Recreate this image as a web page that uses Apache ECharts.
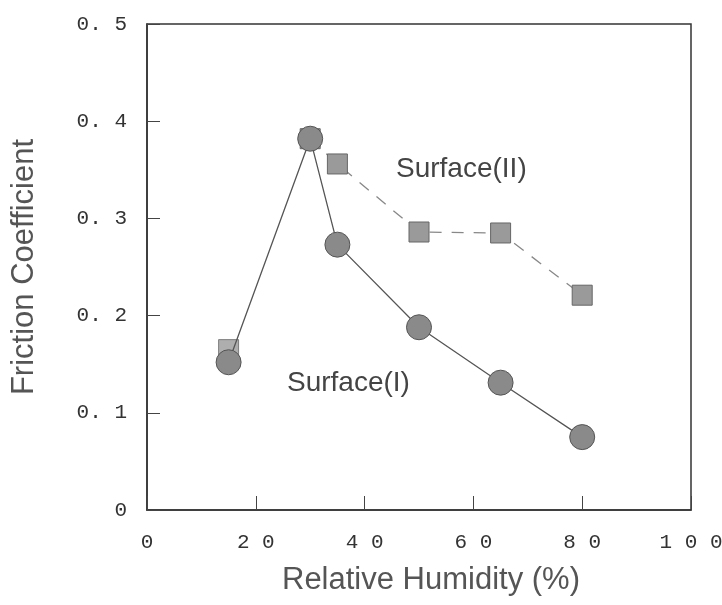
<!DOCTYPE html>
<html>
<head>
<meta charset="utf-8">
<script src="https://cdn.jsdelivr.net/npm/echarts@6/dist/echarts.min.js"></script>
<style>
  html, body { margin: 0; padding: 0; background: #fff; }
  #main { width: 722px; height: 605px; }
</style>
</head>
<body>
<div id="main"></div>
<script>
// values
var humidity = [15, 30, 35, 50, 65, 80];
var surface1 = [0.152, 0.382, 0.273, 0.188, 0.131, 0.075];
var surface2 = [0.165, 0.382, 0.356, 0.286, 0.285, 0.221];
var xTickLabels = { 0: '0', 20: '2 0', 40: '4 0', 60: '6 0', 80: '8 0', 100: '1 0 0' };
var yTickLabels = { 0: '0', 1: '0. 1', 2: '0. 2', 3: '0. 3', 4: '0. 4', 5: '0. 5' };

function pairs(xs, ys) {
  return xs.map(function (x, i) { return [x, ys[i]]; });
}

var chart = echarts.init(document.getElementById('main'));
var tickFont = { fontFamily: 'Liberation Mono', fontSize: 21, color: '#333' };
var s2points = pairs(humidity, surface2);

var option = {
  backgroundColor: '#fff',
  animation: false,
  grid: {
    left: 147, top: 24, right: 31, bottom: 95,
    outerBoundsMode: 'none',
    show: true, borderColor: '#333', borderWidth: 1.5
  },
  xAxis: {
    type: 'value', min: 0, max: 100, interval: 20,
    name: 'Relative Humidity (%)',
    nameLocation: 'middle', nameGap: 55,
    nameTextStyle: { fontFamily: 'Liberation Sans', fontSize: 31, color: '#555', padding: [0, 0, 0, 24] },
    axisLine: { lineStyle: { color: '#333', width: 1.5 } },
    axisTick: { inside: true, length: 14, lineStyle: { color: '#444' } },
    splitLine: { show: false },
    axisLabel: Object.assign({
      margin: 22,
      formatter: function (v) { return xTickLabels[v]; }
    }, tickFont)
  },
  yAxis: {
    type: 'value', min: 0, max: 0.5, interval: 0.1,
    name: 'Friction Coefficient',
    nameLocation: 'middle', nameGap: 107,
    nameTextStyle: { fontFamily: 'Liberation Sans', fontSize: 31, color: '#555' },
    axisLine: { lineStyle: { color: '#333', width: 1.5 } },
    axisTick: { inside: true, length: 13, lineStyle: { color: '#444' } },
    splitLine: { show: false },
    axisLabel: Object.assign({
      margin: 20,
      formatter: function (v) { return yTickLabels[Math.round(v * 10)]; }
    }, tickFont)
  },
  graphic: [
    { type: 'text', left: 396, top: 155,
      style: { text: 'Surface(II)', font: '28px "Liberation Sans"', fill: '#444' } },
    { type: 'text', left: 287, top: 369,
      style: { text: 'Surface(I)', font: '28px "Liberation Sans"', fill: '#444' } }
  ],
  series: [
    {
      // first square sits on the solid rising line, no own segment
      name: 'Surface(II) start', type: 'scatter',
      data: s2points.slice(0, 1),
      symbol: 'rect', symbolSize: 20,
      itemStyle: { color: '#9a9a9a', borderColor: '#666', borderWidth: 1 },
      z: 2
    },
    {
      name: 'Surface(II)', type: 'line',
      data: s2points.slice(1),
      symbol: 'rect', symbolSize: 20,
      lineStyle: { color: '#888', width: 1.3, type: [12, 10] },
      itemStyle: { color: '#9a9a9a', borderColor: '#666', borderWidth: 1 },
      z: 2
    },
    {
      name: 'Surface(I)', type: 'line',
      data: pairs(humidity, surface1),
      symbol: 'circle', symbolSize: 25,
      lineStyle: { color: '#555', width: 1.3 },
      itemStyle: { color: '#8a8a8a', borderColor: '#555', borderWidth: 1 },
      z: 3
    }
  ]
};
chart.setOption(option);
</script>
</body>
</html>
